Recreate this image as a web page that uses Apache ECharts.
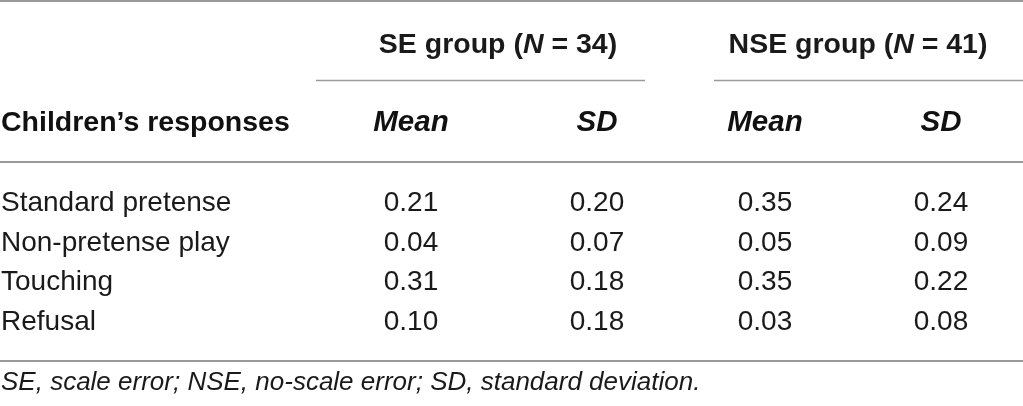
<!DOCTYPE html>
<html>
<head>
<meta charset="utf-8">
<script src="https://cdn.jsdelivr.net/npm/echarts@6/dist/echarts.min.js"></script>
<style>
html,body{margin:0;padding:0;background:#fff;}
#main{width:1023px;height:406px;}
</style>
</head>
<body>
<div id="main"></div>
<script>
// table contents
var responses = ['Standard pretense', 'Non-pretense play', 'Touching', 'Refusal'];
var seMean  = [0.21, 0.04, 0.31, 0.10];
var seSD    = [0.20, 0.07, 0.18, 0.18];
var nseMean = [0.35, 0.05, 0.35, 0.03];
var nseSD   = [0.24, 0.09, 0.22, 0.08];
var groupNames = ['SE group', 'NSE group'];
var groupN = [34, 41];
var statNames = ['Mean', 'SD', 'Mean', 'SD'];
var rowHeader = 'Children\u2019s responses';
var footnote = 'SE, scale error; NSE, no-scale error; SD, standard deviation.';

// layout
var colX = [411, 597, 765, 941];
var groupX = [498, 858];
var FONT = '"Liberation Sans", Arial, Helvetica, sans-serif';
var textColor = '#1a1a1a';
var ruleColor = '#9a9a9a';

var columns = [seMean, seSD, nseMean, nseSD];

// one custom series per column, cells placed through the axes
var series = columns.map(function (vals, j) {
    return {
        type: 'custom',
        silent: true,
        renderItem: function (params, api) {
            var pt = api.coord([api.value(0), api.value(1)]);
            return {
                type: 'text',
                style: {
                    text: api.value(2).toFixed(2),
                    x: pt[0], y: pt[1],
                    align: 'center', verticalAlign: 'middle',
                    fontFamily: FONT, fontSize: 28, fill: textColor
                }
            };
        },
        data: vals.map(function (v, i) { return [colX[j], i, v]; })
    };
});

function hline(x1, x2, y, w) {
    return {type: 'line', silent: true,
        shape: {x1: x1, y1: y, x2: x2, y2: y},
        style: {stroke: ruleColor, lineWidth: w}};
}

function txt(x, y, text, align, extra) {
    var st = {text: text, x: x, y: y,
        fontFamily: FONT, fontSize: 28, fill: textColor,
        align: align, verticalAlign: 'middle',
        textAlign: align, textVerticalAlign: 'middle'};
    for (var k in extra) st[k] = extra[k];
    return {type: 'text', silent: true, style: st};
}

var graphics = [
    hline(0, 1023, 1, 2),
    hline(316, 645, 80.5, 1.5),
    hline(714, 1023, 80.5, 1.5),
    hline(0, 1023, 162, 2),
    hline(0, 1023, 361, 2)
];

var rich = {
    b: {fontFamily: FONT, fontSize: 28.5, fontWeight: 'bold', color: '#111'},
    bi: {fontFamily: FONT, fontSize: 28.5, fontWeight: 'bold', fontStyle: 'italic', color: '#111'}
};
groupNames.forEach(function (g, k) {
    graphics.push(txt(groupX[k], 45,
        '{b|' + g + ' (}{bi|N}{b| = ' + groupN[k] + ')}', 'center', {rich: rich}));
});
graphics.push(txt(1, 123, rowHeader, 'left',
    {fontWeight: 'bold', fill: '#111', fontSize: 28.5}));
statNames.forEach(function (s, k) {
    graphics.push(txt(colX[k], 123, s, 'center',
        {fontWeight: 'bold', fontStyle: 'italic', fill: '#111', fontSize: 29.5}));
});
graphics.push(txt(1, 383, footnote, 'left',
    {fontStyle: 'italic', fontSize: 26}));

var myChart = echarts.init(document.getElementById('main'));
var option = {
    animation: false,
    grid: {left: 0, right: 0, top: 184, bottom: 64, outerBoundsMode: 'none', containLabel: false},
    xAxis: {type: 'value', min: 0, max: 1023, show: false},
    yAxis: {
        type: 'category',
        data: responses,
        inverse: true,
        axisLine: {show: false},
        axisTick: {show: false},
        splitLine: {show: false},
        axisLabel: {
            inside: true,
            margin: 1,
            align: 'left',
            fontFamily: FONT,
            fontSize: 28,
            color: textColor
        }
    },
    series: series,
    graphic: {elements: graphics}
};
myChart.setOption(option);
</script>
</body>
</html>
